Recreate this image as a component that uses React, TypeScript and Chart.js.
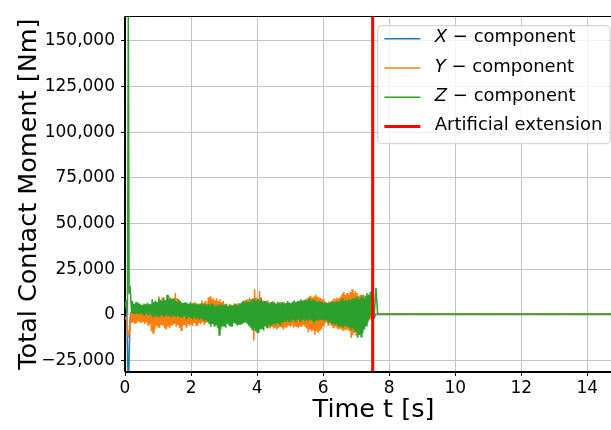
import React, { useEffect, useRef } from 'react';
import { Chart, registerables } from 'chart.js';

Chart.register(...registerables);

// ---------------- data ----------------
const SERIES_LABELS = ['X − component', 'Y − component', 'Z − component', 'Artificial extension'];
const SERIES_COLORS = ['#1f77b4', '#ff7f0e', '#2ca02c', '#ff0000'];

const X_TICKS = [0, 2, 4, 6, 8, 10, 12, 14];
const Y_TICKS = [-25000, 0, 25000, 50000, 75000, 100000, 125000, 150000];
const X_MIN = 0;
const X_MAX = 15.05;
const Y_MIN = -31300;
const Y_MAX = 163500;
const EXTENSION_T = 7.5;

// sample times of X in the simulated part (0 - 7.45 s)
const T_X = [
  0, 0.05, 0.1, 0.15, 0.2, 0.25, 0.3, 0.35, 0.4, 0.45,
  0.5, 0.55, 0.6, 0.65, 0.7, 0.75, 0.8, 0.85, 0.9, 0.95,
  1.0, 1.05, 1.1, 1.15, 1.2, 1.25, 1.3, 1.35, 1.4, 1.45,
  1.5, 1.55, 1.6, 1.65, 1.7, 1.75, 1.8, 1.85, 1.9, 1.95,
  2.0, 2.05, 2.1, 2.15, 2.2, 2.25, 2.3, 2.35, 2.4, 2.45,
  2.5, 2.55, 2.6, 2.65, 2.7, 2.75, 2.8, 2.85, 2.9, 2.95,
  3.0, 3.05, 3.1, 3.15, 3.2, 3.25, 3.3, 3.35, 3.4, 3.45,
  3.5, 3.55, 3.6, 3.65, 3.7, 3.75, 3.8, 3.85, 3.9, 3.95,
  4.0, 4.05, 4.1, 4.15, 4.2, 4.25, 4.3, 4.35, 4.4, 4.45,
  4.5, 4.55, 4.6, 4.65, 4.7, 4.75, 4.8, 4.85, 4.9, 4.95,
  5.0, 5.05, 5.1, 5.15, 5.2, 5.25, 5.3, 5.35, 5.4, 5.45,
  5.5, 5.55, 5.6, 5.65, 5.7, 5.75, 5.8, 5.85, 5.9, 5.95,
  6.0, 6.05, 6.1, 6.15, 6.2, 6.25, 6.3, 6.35, 6.4, 6.45,
  6.5, 6.55, 6.6, 6.65, 6.7, 6.75, 6.8, 6.85, 6.9, 6.95,
  7.0, 7.05, 7.1, 7.15, 7.2, 7.25, 7.3, 7.35, 7.4, 7.45,
];

const X_SIM = [
  7000, 7500, -45000, -2500, 1500, -1500, 1200, -1000, 1500, -1800,
  1000, -1500, 1800, -1200, 1500, -2000, 1200, -1500, 2000, -1800,
  1500, -1200, 1800, -1500, 1000, -2000, 1500, -1000, 1800, -1500,
  1200, -1800, 1500, -1000, 2000, -1500, 1000, -1200, 1500, -2000,
  1000, -1500, 1800, -1200, 1500, -1800, 1200, -1000, 2000, -1500,
  1500, -2000, 1000, -1500, 1800, -1200, 1500, -1800, 1200, -1500,
  1800, -1200, 1500, -2000, 1000, -1500, 1800, -1000, 1500, -1800,
  1200, -1500, 2000, -1200, 1500, -1800, 1000, -1500, 1800, -2000,
  1500, -1800, 1200, -1500, 2000, -1000, 1500, -1800, 1200, -1500,
  1800, -1200, 1500, -2000, 1000, -1500, 1800, -1200, 1500, -1800,
  1500, -1200, 1000, -2000, 1800, -5000, 1200, -1500, 1000, -1800,
  1200, -1500, 1800, -1200, 1500, -2000, 1000, -1500, 1800, -1200,
  1500, -1800, 1200, -1500, 2000, -1000, 1500, -1800, 1200, -1500,
  1800, -1500, 1500, -2000, 1200, -1500, 1800, -1200, 1500, -2000,
  1200, -1800, 1500, -1200, 1800, -1500, 1000, -1200, 800, -500,
];

// sample times of Y and Z in the simulated part (0 - 7.475 s)
const T_YZ = [
  0, 0.025, 0.05, 0.075, 0.1, 0.125, 0.15, 0.175, 0.2, 0.225,
  0.25, 0.275, 0.3, 0.325, 0.35, 0.375, 0.4, 0.425, 0.45, 0.475,
  0.5, 0.525, 0.55, 0.575, 0.6, 0.625, 0.65, 0.675, 0.7, 0.725,
  0.75, 0.775, 0.8, 0.825, 0.85, 0.875, 0.9, 0.925, 0.95, 0.975,
  1.0, 1.025, 1.05, 1.075, 1.1, 1.125, 1.15, 1.175, 1.2, 1.225,
  1.25, 1.275, 1.3, 1.325, 1.35, 1.375, 1.4, 1.425, 1.45, 1.475,
  1.5, 1.525, 1.55, 1.575, 1.6, 1.625, 1.65, 1.675, 1.7, 1.725,
  1.75, 1.775, 1.8, 1.825, 1.85, 1.875, 1.9, 1.925, 1.95, 1.975,
  2.0, 2.025, 2.05, 2.075, 2.1, 2.125, 2.15, 2.175, 2.2, 2.225,
  2.25, 2.275, 2.3, 2.325, 2.35, 2.375, 2.4, 2.425, 2.45, 2.475,
  2.5, 2.525, 2.55, 2.575, 2.6, 2.625, 2.65, 2.675, 2.7, 2.725,
  2.75, 2.775, 2.8, 2.825, 2.85, 2.875, 2.9, 2.925, 2.95, 2.975,
  3.0, 3.025, 3.05, 3.075, 3.1, 3.125, 3.15, 3.175, 3.2, 3.225,
  3.25, 3.275, 3.3, 3.325, 3.35, 3.375, 3.4, 3.425, 3.45, 3.475,
  3.5, 3.525, 3.55, 3.575, 3.6, 3.625, 3.65, 3.675, 3.7, 3.725,
  3.75, 3.775, 3.8, 3.825, 3.85, 3.875, 3.9, 3.925, 3.95, 3.975,
  4.0, 4.025, 4.05, 4.075, 4.1, 4.125, 4.15, 4.175, 4.2, 4.225,
  4.25, 4.275, 4.3, 4.325, 4.35, 4.375, 4.4, 4.425, 4.45, 4.475,
  4.5, 4.525, 4.55, 4.575, 4.6, 4.625, 4.65, 4.675, 4.7, 4.725,
  4.75, 4.775, 4.8, 4.825, 4.85, 4.875, 4.9, 4.925, 4.95, 4.975,
  5.0, 5.025, 5.05, 5.075, 5.1, 5.125, 5.15, 5.175, 5.2, 5.225,
  5.25, 5.275, 5.3, 5.325, 5.35, 5.375, 5.4, 5.425, 5.45, 5.475,
  5.5, 5.525, 5.55, 5.575, 5.6, 5.625, 5.65, 5.675, 5.7, 5.725,
  5.75, 5.775, 5.8, 5.825, 5.85, 5.875, 5.9, 5.925, 5.95, 5.975,
  6.0, 6.025, 6.05, 6.075, 6.1, 6.125, 6.15, 6.175, 6.2, 6.225,
  6.25, 6.275, 6.3, 6.325, 6.35, 6.375, 6.4, 6.425, 6.45, 6.475,
  6.5, 6.525, 6.55, 6.575, 6.6, 6.625, 6.65, 6.675, 6.7, 6.725,
  6.75, 6.775, 6.8, 6.825, 6.85, 6.875, 6.9, 6.925, 6.95, 6.975,
  7.0, 7.025, 7.05, 7.075, 7.1, 7.125, 7.15, 7.175, 7.2, 7.225,
  7.25, 7.275, 7.3, 7.325, 7.35, 7.375, 7.4, 7.425, 7.45, 7.475,
];

const Y_SIM = [
  -1000, -2000, -3000, -6000, -12500, -9000, -5000, 1500, -4500, 2000,
  -4000, 1500, -5000, 2500, -4500, 1000, -3500, 2000, -4000, 1500,
  -4500, 2000, -3500, 1500, -5000, 2500, -4000, 1000, -5500, 2000,
  -5000, 3000, -9000, 2000, -10000, 2500, -8000, 3500, -6000, 4000,
  -6500, 10000, -7000, 6000, -5500, 9500, -6000, 5000, -7500, 8000,
  -8000, 9500, -6500, 10500, -7000, 8000, -6000, 7500, -5500, 9000,
  -5000, 12000, -6500, 9000, -5500, 8000, -7000, 6500, -8500, 6000,
  -6000, 4500, -5500, 5500, -6500, 5000, -5000, 4000, -6000, 5500,
  -5000, 6500, -6000, 4000, -4500, 7000, -5500, 5500, -6000, 6000,
  -4500, 5500, -5000, 8000, -4000, 6500, -5500, 7500, -4500, 6000,
  -3000, 9500, -2500, 10000, -3500, 8500, -3000, 9000, -2000, 8000,
  -3500, 9000, -2500, 7500, -3000, 8500, -2000, 7000, -3000, 7500,
  -2500, 6000, -3500, 5500, -2000, 5000, -3000, 6000, -2500, 5500,
  -3000, 5000, -2000, 6000, -3500, 5500, -2500, 6500, -3000, 5000,
  -3000, 6500, -3500, 7500, -4500, 8000, -3500, 7000, -4000, 8500,
  -4500, 9500, -6000, 8500, -5000, 9000, -14000, 14000, -7000, 9500,
  -6000, 9000, -5000, 13000, -6500, 8500, -4000, 8000, -5500, 7500,
  -6500, 7000, -7000, 8000, -6000, 6500, -7500, 7000, -6500, 7500,
  -7500, 6500, -7000, 5500, -8000, 6000, -7000, 7000, -6500, 5500,
  -7000, 6000, -8000, 7000, -6500, 5500, -7000, 6500, -6000, 5000,
  -6000, 5000, -5500, 6500, -7000, 6000, -6000, 5500, -6500, 7000,
  -7000, 7500, -6000, 8000, -6500, 7000, -5500, 8000, -6500, 7500,
  -7500, 9000, -9500, 10000, -8000, 10500, -9000, 9500, -8500, 10000,
  -11000, 11000, -9000, 10000, -10000, 9500, -9000, 9000, -8000, 8500,
  -6000, 8500, -5000, 7000, -4000, 6500, -5500, 7500, -4500, 7000,
  -6000, 8000, -7000, 9000, -6500, 8500, -7000, 9500, -7500, 9000,
  -7500, 10000, -8000, 11500, -9000, 12500, -8500, 11000, -8000, 12000,
  -8500, 11000, -9000, 12500, -12500, 14000, -11000, 12000, -10000, 13000,
  -11000, 12000, -9000, 10500, -10000, 11000, -8000, 10000, -7000, 11000,
  -6000, 9000, -5000, 8000, -4000, 7000, -3000, 6000, -2000, 3000,
];

const Z_SIM = [
  7000, 5000, 3000, 2000, 170000, 12000, 16000, 9000, 1000, 7500,
  500, 6000, 200, 6800, 800, 7000, 300, 6200, 500, 5500,
  800, 5500, 300, 6200, -500, 5800, 600, 6500, 0, 6000,
  1000, 5800, -500, 8500, -1000, 7000, 0, 7800, -1000, 7000,
  -500, 9000, -1500, 8200, 0, 7500, -800, 9500, -1000, 8000,
  0, 11000, -1000, 8500, -500, 9500, -1500, 8800, -500, 9000,
  -800, 8000, -1200, 7200, -500, 8500, -1500, 7500, -1000, 6800,
  -1500, 6500, -500, 7000, -2000, 6600, -1000, 6000, -1500, 6800,
  -1500, 6000, -2500, 6500, -1000, 5800, -2000, 6200, -1500, 5500,
  -3000, 6200, -2000, 5500, -2500, 6000, -3500, 5800, -3000, 5000,
  -4000, 6000, -5000, 5500, -6500, 6200, -5000, 5800, -6000, 5000,
  -5500, 5000, -7000, 5500, -11000, 5800, -8000, 5200, -6500, 5500,
  -6000, 5200, -7000, 6000, -5000, 4800, -5500, 5500, -6500, 5000,
  -6500, 5500, -4500, 6200, -5000, 5800, -6000, 5000, -5500, 6000,
  -5500, 6800, -5000, 7500, -4500, 6500, -4000, 8200, -5000, 7000,
  -6000, 7000, -7000, 8000, -8000, 9000, -7500, 8500, -9000, 8000,
  -9500, 8500, -10000, 8000, -8000, 9500, -7500, 7200, -8500, 7500,
  -6000, 7500, -7000, 6800, -5000, 6500, -6500, 7000, -5500, 6500,
  -5000, 7000, -5500, 6200, -4500, 7000, -5000, 6500, -6000, 6800,
  -4500, 7000, -4000, 6000, -3500, 6500, -3000, 7500, -4000, 6800,
  -3500, 6500, -2500, 7200, -3000, 8000, -3500, 7000, -2500, 7500,
  -2500, 7500, -3500, 8500, -3000, 7800, -2500, 8000, -3500, 8500,
  -3000, 7800, -3500, 9000, -2500, 7500, -3000, 8500, -4000, 8000,
  -4000, 8000, -3000, 7000, -3500, 7500, -2500, 7200, -3000, 7000,
  -2500, 6800, -3500, 7200, -3000, 6500, -4000, 6500, -3500, 7000,
  -5000, 7500, -4500, 7000, -5500, 7000, -5000, 7500, -6000, 7200,
  -6000, 8000, -6500, 9000, -7000, 7500, -6000, 8200, -6500, 7800,
  -6500, 8500, -7000, 8000, -8000, 9000, -7500, 8500, -9000, 9500,
  -9000, 10000, -12500, 8500, -11000, 9500, -12000, 11000, -10000, 9000,
  -8000, 10500, -6000, 12000, -4000, 11000, -2000, 12500, 0, 13000,
];

// artificial extension (after 7.5 s)
const T_EXT = [7.5, 7.55, 7.6, 7.65, 7.7, 8, 8.5, 9, 9.5, 10, 10.5, 11, 11.5, 12, 12.5, 13, 13.5, 14, 14.5, 15.05];
const X_EXT = [500, -1500, 300, 200, 200, 200, 200, 200, 200, 200, 200, 200, 200, 200, 200, 200, 200, 200, 200, 200];
const Y_EXT = [1500, 600, 400, 300, 300, 300, 400, 300, 400, 300, 400, 300, 400, 300, 400, 300, 400, 300, 400, 300];
const Z_EXT = [800, 600, 14700, 500, 400, 400, 400, 400, 400, 400, 400, 400, 400, 400, 400, 400, 400, 400, 400, 400];

// ---------------- helpers ----------------
const FONT = '"DejaVu Sans", "Liberation Sans", sans-serif';

function toPoints(t: number[], v: number[]) {
  return t.map((x, i) => ({ x, y: v[i] }));
}

const spinesPlugin = {
  id: 'spines',
  afterDatasetsDraw(chart: any) {
    const { ctx, chartArea } = chart;
    ctx.save();
    ctx.strokeStyle = '#000';
    ctx.lineWidth = 1;
    ctx.beginPath();
    const l = Math.round(chartArea.left) - 0.5;
    const t = Math.round(chartArea.top) + 0.5;
    const b = Math.round(chartArea.bottom) - 0.5;
    const r = chartArea.right + 2;
    ctx.moveTo(r, t);
    ctx.lineTo(l, t);
    ctx.lineTo(l, b);
    ctx.lineTo(r, b);
    ctx.stroke();
    ctx.restore();
  },
};

const boxLegendPlugin = {
  id: 'boxLegend',
  afterDraw(chart: any) {
    const { ctx } = chart;
    const fs = 18;
    const normal = `${fs}px ${FONT}`;
    const italic = `italic ${fs}px ${FONT}`;
    const ds = chart.data.datasets;
    ctx.save();
    const parts = ds.map((d: any) => {
      const m = /^([XYZ]) (.*)$/.exec(d.label);
      if (m) return { it: m[1], rest: ' ' + m[2] };
      return { it: '', rest: d.label };
    });
    const widths = parts.map((p: any) => {
      ctx.font = italic;
      const w1 = p.it ? ctx.measureText(p.it).width : 0;
      ctx.font = normal;
      return w1 + ctx.measureText(p.rest).width;
    });
    const pad = 0.4 * fs;
    const handle = 2 * fs;
    const gap = 0.8 * fs;
    const maxW = Math.max(...widths);
    const boxW = pad + handle + gap + maxW + pad;
    const boxH = 118;
    const right = chart.chartArea.right - 12.5;
    const left = right - boxW;
    const top = chart.chartArea.top + 9;
    ctx.beginPath();
    ctx.roundRect(left + 0.5, top + 0.5, boxW, boxH, 4);
    ctx.fillStyle = 'rgba(255,255,255,0.8)';
    ctx.fill();
    ctx.strokeStyle = '#cccccc';
    ctx.lineWidth = 1;
    ctx.stroke();

    const rowH = 29.3;
    ds.forEach((d: any, i: number) => {
      const cy = top + 13.5 + i * rowH;
      ctx.beginPath();
      ctx.strokeStyle = d.borderColor;
      ctx.lineWidth = d.borderWidth;
      ctx.moveTo(left + pad, cy);
      ctx.lineTo(left + pad + handle, cy);
      ctx.stroke();
      let tx = left + pad + handle + gap;
      ctx.fillStyle = '#000';
      ctx.textBaseline = 'middle';
      ctx.textAlign = 'left';
      const p = parts[i];
      const ty = cy - 1;
      if (p.it) {
        ctx.font = italic;
        ctx.fillText(p.it, tx, ty);
        tx += ctx.measureText(p.it).width;
      }
      ctx.font = normal;
      ctx.fillText(p.rest, tx, ty);
    });
    ctx.restore();
  },
};

export default function App() {
  const ref = useRef<HTMLCanvasElement>(null);

  useEffect(() => {
    const canvas = ref.current;
    if (!canvas) return;
    const lineDs = (i: number, pts: any[], order: number) => ({
      label: SERIES_LABELS[i],
      data: pts,
      borderColor: SERIES_COLORS[i],
      borderWidth: 1.5,
      pointRadius: 0,
      order,
    });
    const chart = new Chart(canvas, {
      type: 'line',
      data: {
        datasets: [
          lineDs(0, toPoints([...T_X, ...T_EXT], [...X_SIM, ...X_EXT]), 4),
          lineDs(1, toPoints([...T_YZ, ...T_EXT], [...Y_SIM, ...Y_EXT]), 3),
          lineDs(2, toPoints([...T_YZ, ...T_EXT], [...Z_SIM, ...Z_EXT]), 2),
          {
            label: SERIES_LABELS[3],
            data: [
              { x: EXTENSION_T, y: Y_MIN },
              { x: EXTENSION_T, y: Y_MAX },
            ],
            borderColor: SERIES_COLORS[3],
            borderWidth: 3,
            pointRadius: 0,
            order: 1,
          },
        ],
      } as any,
      options: {
        animation: false,
        responsive: false,
        devicePixelRatio: 1,
        layout: { padding: { top: 11, left: 0, right: 0, bottom: 0 } },
        plugins: {
          legend: { display: false },
          tooltip: { enabled: false },
        },
        elements: { line: { tension: 0 } },
        scales: {
          x: {
            type: 'linear',
            min: X_MIN,
            max: X_MAX,
            afterFit: (s: any) => {
              s.height = 58;
            },
            afterBuildTicks: (s: any) => {
              s.ticks = X_TICKS.map((v) => ({ value: v }));
            },
            ticks: {
              font: { family: FONT, size: 17 },
              color: '#000',
              padding: 2,
              maxRotation: 0,
              autoSkip: false,
              includeBounds: false,
              callback: (v: any) => String(v),
            },
            grid: {
              color: '#c4c4c4',
              lineWidth: 1,
              drawTicks: true,
              tickLength: 4,
              tickColor: '#000',
            },
            border: { display: true, color: '#000', width: 1 },
            title: {
              display: true,
              text: 'Time t [s]',
              font: { family: FONT, size: 25.5 },
              color: '#000',
              padding: { top: 0, bottom: 4 },
            },
          },
          y: {
            type: 'linear',
            min: Y_MIN,
            max: Y_MAX,
            afterFit: (s: any) => {
              s.width = 125;
            },
            afterBuildTicks: (s: any) => {
              s.ticks = Y_TICKS.map((v) => ({ value: v }));
            },
            ticks: {
              font: { family: FONT, size: 17 },
              color: '#000',
              padding: 6,
              autoSkip: false,
              includeBounds: false,
              callback: (v: any) => Number(v).toLocaleString('en-US').replace('-', '\u2212'),
            },
            grid: {
              color: '#c4c4c4',
              lineWidth: 1,
              drawTicks: true,
              tickLength: 4,
              tickColor: '#000',
            },
            border: { display: true, color: '#000', width: 1 },
            title: {
              display: true,
              text: 'Total Contact Moment [Nm]',
              font: { family: FONT, size: 25.5 },
              color: '#000',
              padding: { top: 14, bottom: 0 },
            },
          },
        },
      } as any,
      plugins: [spinesPlugin, boxLegendPlugin],
    });
    return () => chart.destroy();
  }, []);

  return (
    <div
      style={{
        position: 'fixed',
        left: 0,
        top: 0,
        width: 611,
        height: 430,
        overflow: 'hidden',
        background: '#fff',
      }}
    >
      <canvas ref={ref} width={622} height={430} style={{ width: 622, height: 430, display: 'block' }} />
    </div>
  );
}
